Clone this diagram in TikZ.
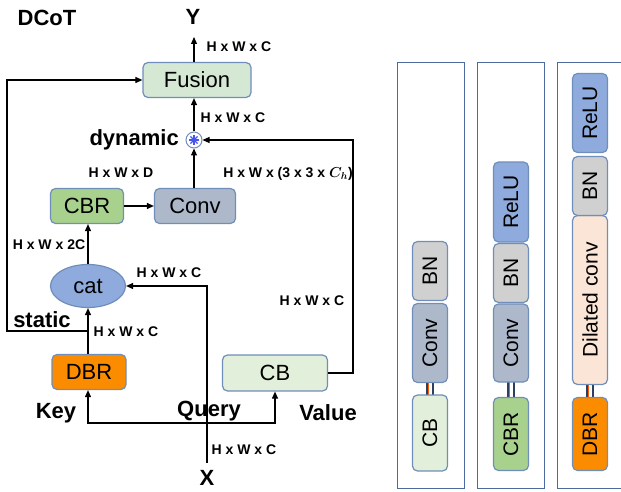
\documentclass[tikz,border=0pt]{standalone}
\usepackage{amsmath}
\usepackage{fontspec}
\setmainfont{Liberation Sans}
\usetikzlibrary{shapes.geometric,arrows.meta}
\definecolor{bord}{HTML}{6F8EBA}
\definecolor{fusionc}{HTML}{D5E8D4}
\definecolor{cbrc}{HTML}{A9D18E}
\definecolor{convc}{HTML}{ADB9CA}
\definecolor{catc}{HTML}{8FAADC}
\definecolor{dbrc}{HTML}{FB8C00}
\definecolor{cbc}{HTML}{E2EFDA}
\definecolor{bnc}{HTML}{D0D0D0}
\definecolor{dilc}{HTML}{FBE5D6}
\definecolor{panelc}{HTML}{4A6AA0}
\begin{document}
\begin{tikzpicture}[x=1pt,y=-1pt,
  box/.style={draw=bord,line width=1.2pt,rounded corners=5pt,inner sep=0pt,
    font=\fontsize{22}{24}\selectfont},
  blk/.style={draw=bord,line width=1.2pt,rounded corners=5pt,inner sep=0pt,
    minimum height=35pt,rotate=90,font=\fontsize{21}{23}\selectfont},
  dim/.style={font=\bfseries\fontsize{14}{16}\selectfont,inner sep=0pt},
  big/.style={font=\bfseries\fontsize{22}{24}\selectfont,inner sep=0pt},
  arr/.style={line width=1.1pt,-{Triangle[length=7pt,width=6pt]}},
  pan/.style={draw=panelc,line width=1pt}]
\useasboundingbox (0,0) rectangle (621,492);
% ---- left diagram ----
\node[big] (dcot) at (47,18) {DCoT};
\node[big] (ylab) at (193,17) {Y};
\node[box,fill=fusionc,minimum width=108pt,minimum height=35pt] (fusion) at (197,80) {Fusion};
\node[draw=bord,circle,line width=1pt,minimum size=16pt,inner sep=0pt] (circ) at (194,140) {};
\foreach \a in {0,45,90,135}
  \draw[catc!50!blue,line width=1.1pt] ([shift={(\a:5pt)}]circ.center) -- ([shift={(\a+180:5pt)}]circ.center);
\node[big,anchor=east] (dyn) at (179,140) {dynamic};
\node[box,fill=cbrc,minimum width=73pt,minimum height=35pt] (cbr) at (87,206) {CBR};
\node[box,fill=convc,minimum width=81pt,minimum height=35pt] (conv) at (195,206) {Conv};
\node[draw=bord,line width=1.2pt,ellipse,fill=catc,minimum width=75pt,minimum height=43pt,inner sep=0pt,
  font=\fontsize{22}{24}\selectfont] (cat) at (88,286) {cat};
\node[box,fill=dbrc,minimum width=74pt,minimum height=35pt] (dbr) at (89,372) {DBR};
\node[box,fill=cbc,minimum width=105pt,minimum height=36pt] (cb) at (275,373) {CB};
\node[big] (xlab) at (207,478) {X};
\node[big] (key) at (56,413) {Key};
\node[big] (query) at (209,411) {Query};
\node[big] (value) at (328,413) {Value};
\node[big] (static) at (42,320) {static};
% dimension labels
\node[dim] (d1) at (239,47) {H x W x C};
\node[dim] (d2) at (233,118) {H x W x C};
\node[dim] (d3) at (121,173) {H x W x D};
\node[dim] (d4) at (288,174) {H x W x (3 x 3 x $\boldsymbol{C_h}$)};
\node[dim] (d5) at (49,245) {H x W x 2C};
\node[dim] (d6) at (169,273) {H x W x C};
\node[dim] (d7) at (312,301) {H x W x C};
\node[dim] (d8) at (126,332) {H x W x C};
\node[dim] (d9) at (244,450) {H x W x C};
% connectors
\coordinate (ytip) at (194,37);
\coordinate (stat) at (88,331);
\coordinate (kv) at (207,423);
\coordinate (xin) at (207,463);
\draw[arr] (fusion.north -| ytip) -- (ytip);
\draw[arr] (circ.north) -- (circ.north |- fusion.south);
\draw[arr] (conv.north -| circ) -- (circ.south);
\draw[arr] (cbr.east) -- (conv.west);
\draw[arr] (cat.north) -- (cbr.south -| cat.north);
\draw[arr] (dbr.north -| cat.south) -- (cat.south);
\draw[arr] (stat) -- (7,331) -- (7,80) -- (fusion.west);
\draw[arr] (cb.east) -- (353,373) -- (353,140) -- (circ.east);
\draw[arr] (xin) -- (207,286) -- (cat.east);
\draw[arr] (kv) -| (dbr.south -| cat.south);
\draw[arr] (kv) -| (cb.south);
% ---- right panels ----
\draw[pan] (397,63) rectangle (464,488);
\draw[pan] (477,63) rectangle (544,488);
\draw[pan] (557,63) rectangle (640,488);
% double links (drawn first, under the blocks)
\foreach \x/\ya/\yb in {430/380/397,511/380/400,590/383/400}{
  \draw[line width=1.3pt,panelc!60!black] (\x-3,\ya) -- (\x-3,\yb);
  \draw[line width=1.3pt,panelc!60!black] (\x+3,\ya) -- (\x+3,\yb);
  \draw[line width=0.8pt,orange!70!red] (\x-1.2,\ya) -- (\x-1.2,\yb);
}
% panel 1
\node[blk,fill=cbc,minimum width=76pt] (p1cb) at (430,433) {CB};
\node[blk,fill=convc,minimum width=79pt] (p1conv) at (430,343) {Conv};
\node[blk,fill=bnc,minimum width=59pt] (p1bn) at (430,271) {BN};
% panel 2
\node[blk,fill=cbrc,minimum width=73pt] (p2cbr) at (511,434) {CBR};
\node[blk,fill=convc,minimum width=78pt] (p2conv) at (511,343) {Conv};
\node[blk,fill=bnc,minimum width=59pt] (p2bn) at (511,273) {BN};
\node[blk,fill=catc,minimum width=80pt] (p2relu) at (511,202) {ReLU};
% panel 3
\node[blk,fill=dbrc,minimum width=73pt] (p3dbr) at (590,434) {DBR};
\node[blk,fill=dilc,minimum width=169pt] (p3dil) at (590,300) {Dilated conv};
\node[blk,fill=bnc,minimum width=59pt] (p3bn) at (590,186) {BN};
\node[blk,fill=catc,minimum width=79pt] (p3relu) at (590,113) {ReLU};
\end{tikzpicture}
\end{document}
